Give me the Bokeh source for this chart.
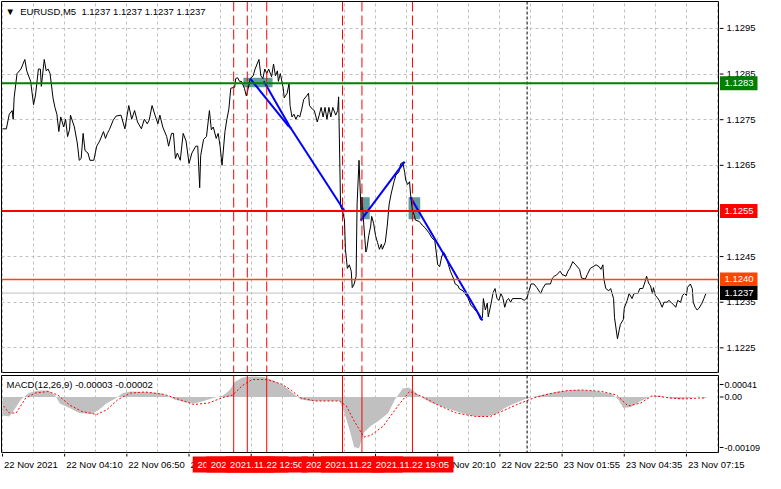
from bokeh.plotting import figure
from bokeh.layouts import column, row
from bokeh.models import Range1d, FixedTicker, Span, Label, Grid, ColumnDataSource
from bokeh.core.properties import value
from bokeh.embed import file_html
from bokeh.resources import INLINE

# ---------------- data ----------------
symbol_title = "\u25bc\u00a0\u00a0EURUSD,M5\u00a0\u00a01.1237 1.1237 1.1237 1.1237"
macd_title = "MACD(12,26,9) -0.00003 -0.00002"

# x axis: bar index (M5 bars), label every 32 bars, grid every 16 bars
time_labels = ["22 Nov 2021", "22 Nov 04:10", "22 Nov 06:50", "22 Nov 09:30",
               "22 Nov 12:10", "22 Nov 14:50", "22 Nov 17:30", "22 Nov 20:10",
               "22 Nov 22:50", "23 Nov 01:55", "23 Nov 04:35", "23 Nov 07:15"]
label_step = 32
grid_step = 16
n_bars = 369

price_ticks = [1.1225, 1.1235, 1.1245, 1.1255, 1.1265, 1.1275, 1.1285, 1.1295]

# close prices (bar, price)
price_points = [
    (0, 1.12730), (2, 1.12730), (3.5, 1.12762), (5, 1.12770), (5.5, 1.12751), (6, 1.12798),
    (7.5, 1.12851), (9.5, 1.12861), (11.5, 1.12882), (12.5, 1.12857), (14.5, 1.12834),
    (16, 1.12783), (17, 1.12804), (18.5, 1.12861), (19.5, 1.12861), (20, 1.12823),
    (21.5, 1.12882), (22.5, 1.12857), (23.5, 1.12861), (24.5, 1.12851), (26, 1.12798),
    (27, 1.12777), (28, 1.12762), (29, 1.12724), (30, 1.12756), (31.5, 1.12734),
    (32.5, 1.12751), (33.5, 1.12713), (34.5, 1.12728), (35, 1.12760), (37, 1.12734),
    (38.5, 1.12699), (39.5, 1.12661), (40.5, 1.12665), (41.5, 1.12720), (42.5, 1.12682),
    (44, 1.12677), (45, 1.12661), (47, 1.12661), (48.5, 1.12692), (50, 1.12703),
    (52, 1.12724), (53, 1.12709), (54, 1.12720), (55, 1.12728), (57, 1.12749),
    (58.5, 1.12758), (61, 1.12760), (63, 1.12730), (65, 1.12781), (66.5, 1.12751),
    (68, 1.12770), (69.5, 1.12745), (71.5, 1.12730), (73, 1.12751), (74.5, 1.12741),
    (75.5, 1.12749), (77, 1.12781), (78.5, 1.12760), (80, 1.12741), (81, 1.12760),
    (82.5, 1.12734), (84.5, 1.12713), (85.5, 1.12692), (87, 1.12720), (88, 1.12720),
    (89, 1.12665), (90, 1.12677), (91.5, 1.12661), (93, 1.12720), (94.5, 1.12703),
    (96, 1.12654), (97.5, 1.12677), (99.5, 1.12692), (100.5, 1.12692), (101.5, 1.12601),
    (102, 1.12671), (103.5, 1.12707), (105, 1.12713), (106.5, 1.12770), (107.5, 1.12728),
    (108.5, 1.12734), (110, 1.12709), (111, 1.12720), (112, 1.12692), (113, 1.12650),
    (114.5, 1.12724), (115.5, 1.12751), (116.5, 1.12773), (117.5, 1.12819), (119.5, 1.12821),
    (120, 1.12840), (121, 1.12842), (122, 1.12834), (123, 1.12834), (124.5, 1.12819),
    (125.5, 1.12802), (126.5, 1.12819), (127.5, 1.12840), (129, 1.12846), (130, 1.12861),
    (132, 1.12882), (133, 1.12846), (134, 1.12840), (135, 1.12861), (136, 1.12851),
    (137, 1.12861), (138.5, 1.12844), (139.5, 1.12872), (140.5, 1.12846), (141.5, 1.12857),
    (142, 1.12834), (143, 1.12851), (144.5, 1.12819), (145, 1.12798), (146.5, 1.12808),
    (147.5, 1.12830), (148, 1.12781), (149, 1.12756), (150, 1.12762), (151, 1.12751),
    (152, 1.12760), (153, 1.12756), (154, 1.12773), (155, 1.12794), (156.5, 1.12802),
    (157.5, 1.12808), (158, 1.12781), (159.5, 1.12773), (160.5, 1.12770), (162, 1.12745),
    (163, 1.12760), (164, 1.12777), (165, 1.12756), (166, 1.12777), (167, 1.12751),
    (168, 1.12777), (169, 1.12756), (170, 1.12777), (171.5, 1.12760), (172.5, 1.12770),
    (173, 1.12800), (174, 1.12560), (175, 1.12551), (176, 1.12530), (176.5, 1.12466),
    (177.5, 1.12424), (178.5, 1.12432), (179.5, 1.12418), (180, 1.12382), (181, 1.12390),
    (182, 1.12407), (182.5, 1.12565), (183.5, 1.12661), (184.5, 1.12551), (185, 1.12580),
    (186, 1.12517), (187, 1.12460), (187.5, 1.12466), (188.5, 1.12496), (189.5, 1.12517),
    (190, 1.12538), (191, 1.12523), (192, 1.12496), (193, 1.12481), (194, 1.12466),
    (195, 1.12477), (195.5, 1.12466), (197, 1.12481), (198, 1.12517), (199, 1.12565),
    (200, 1.12587), (201.5, 1.12614), (202.5, 1.12629), (204, 1.12635), (205, 1.12654),
    (206, 1.12656), (207, 1.12635), (207.5, 1.12618), (208.5, 1.12608), (209.5, 1.12614),
    (210, 1.12587), (211, 1.12551), (212, 1.12540), (212.5, 1.12530), (214.5, 1.12527),
    (216, 1.12519), (217.5, 1.12513), (219.5, 1.12502), (221, 1.12491), (222.5, 1.12485),
    (224, 1.12432), (225, 1.12428), (226, 1.12449), (227, 1.12460), (228, 1.12453),
    (229.5, 1.12432), (230.5, 1.12418), (232, 1.12403), (233, 1.12390), (234.5, 1.12386),
    (235, 1.12380), (237, 1.12375), (238, 1.12369), (239.5, 1.12360), (241, 1.12344),
    (242.5, 1.12337), (244.5, 1.12327), (246, 1.12312), (247, 1.12316), (247.5, 1.12358),
    (248.5, 1.12333), (249.5, 1.12348), (250, 1.12318), (251.5, 1.12348), (252.5, 1.12371),
    (253.5, 1.12380), (254.5, 1.12358), (255.5, 1.12354), (256.5, 1.12369), (257.5, 1.12360),
    (258.5, 1.12339), (259.5, 1.12354), (260.5, 1.12358), (261.5, 1.12350), (262.5, 1.12358),
    (267, 1.12358), (268.5, 1.12354), (270, 1.12360), (271, 1.12375), (272, 1.12390),
    (273.5, 1.12390), (275, 1.12382), (277, 1.12369), (278, 1.12380), (279.5, 1.12390),
    (282, 1.12390), (283, 1.12403), (284, 1.12407), (285, 1.12409), (287, 1.12418),
    (288, 1.12411), (290, 1.12407), (291, 1.12418), (292, 1.12424), (293.5, 1.12439),
    (295, 1.12432), (297, 1.12422), (298, 1.12403), (300, 1.12401), (301, 1.12411),
    (302.5, 1.12424), (304, 1.12428), (305.5, 1.12432), (307, 1.12428), (308, 1.12422),
    (309, 1.12432), (309.5, 1.12401), (310.5, 1.12380), (312, 1.12375), (313, 1.12380),
    (314.5, 1.12358), (315, 1.12316), (316.5, 1.12270), (317.5, 1.12291), (318, 1.12301),
    (319.5, 1.12312), (320, 1.12337), (321.5, 1.12354), (322.5, 1.12369), (324, 1.12358),
    (325, 1.12369), (327, 1.12369), (328, 1.12380), (329.5, 1.12380), (330.5, 1.12392),
    (331.5, 1.12407), (332.5, 1.12392), (333.5, 1.12386), (334.5, 1.12369), (335, 1.12382),
    (336, 1.12365), (337, 1.12360), (338, 1.12354), (339.5, 1.12339), (340.5, 1.12350),
    (342, 1.12350), (343, 1.12354), (344.5, 1.12348), (345.5, 1.12344), (346.5, 1.12339),
    (347.5, 1.12354), (349, 1.12350), (350, 1.12365), (351, 1.12369), (352, 1.12365),
    (352.5, 1.12382), (354, 1.12390), (355, 1.12380), (355.5, 1.12350), (356.5, 1.12339),
    (357.5, 1.12333), (358.5, 1.12337), (360, 1.12348), (361, 1.12358), (362, 1.12369),
]

# MACD main (histogram) and signal (bar, value)
macd_hist = [
    (0, -0.00037), (3.5, -0.00039), (6, -0.00026), (9.5, -0.00005), (13.5, 0.00008),
    (18.5, 0.00013), (23.5, 0.00013), (27, 0.00004), (29.5, -0.00013), (34.5, -0.00022),
    (39.5, -0.00032), (46, -0.00034), (49.5, -0.00026), (53.5, -0.00013), (58.5, -0.00002),
    (62, 0.00008), (66, 0.00011), (73.5, 0.00010), (81, 0.00008), (84.5, 0.00003),
    (88.5, -0.00005), (93.5, -0.00010), (98.5, -0.00013), (103.5, -0.00008), (108.5, -0.00002),
    (113.5, 0.00003), (117, 0.00014), (119.5, 0.00030), (123.5, 0.00039), (128.5, 0.00041),
    (134.5, 0.00040), (139.5, 0.00033), (144.5, 0.00023), (148.5, 0.00011), (153.5, -0.00005),
    (158.5, -0.00008), (166, -0.00008), (173.5, -0.00008), (176, -0.00032), (178.5, -0.00064),
    (181, -0.00100), (183.5, -0.00103), (186, -0.00071), (189.5, -0.00058), (193.5, -0.00048),
    (198.5, -0.00032), (202, -0.00005), (206, 0.00017), (209, 0.00019), (212, 0.00011),
    (216, -0.00002), (221, -0.00012), (228.5, -0.00022), (236, -0.00032), (243.5, -0.00039),
    (248.5, -0.00039), (253.5, -0.00035), (258.5, -0.00022), (263.5, -0.00013), (268.5, -0.00005),
    (273.5, 0.00001), (278.5, 0.00005), (286, 0.00011), (293.5, 0.00014), (298.5, 0.00014),
    (306, 0.00011), (313.5, 0.00006), (317, -0.00005), (319.5, -0.00022), (323.5, -0.00020),
    (328.5, -0.00008), (333.5, 0.00001), (338.5, 0.00003), (343.5, -0.00002), (348.5, -0.00005),
    (353.5, -0.00002), (358.5, 0.00001), (362, -0.00003),
]
macd_signal = [
    (0.5, -0.00018), (3.5, -0.00032), (7, -0.00032), (12, -0.00002), (17, 0.00008),
    (23.5, 0.00011), (28.5, 0.00004), (34.5, -0.00016), (41, -0.00029), (48.5, -0.00035),
    (53.5, -0.00026), (59.5, -0.00005), (66, 0.00008), (73.5, 0.00010), (83.5, 0.00005),
    (91, -0.00005), (98.5, -0.00015), (106, -0.00012), (113.5, -0.00001), (118.5, 0.00004),
    (123.5, 0.00023), (128.5, 0.00035), (136, 0.00035), (143.5, 0.00026), (148.5, 0.00014),
    (153.5, -0.00002), (161, -0.00008), (173.5, -0.00008), (177, -0.00018), (181, -0.00048),
    (186, -0.00080), (189.5, -0.00077), (196, -0.00058), (203.5, -0.00018), (209.5, 0.00011),
    (216, 0.00001), (223.5, -0.00015), (233.5, -0.00032), (243.5, -0.00039), (251, -0.00039),
    (258.5, -0.00026), (266, -0.00013), (273.5, -0.00002), (281, 0.00006), (291, 0.00013),
    (298.5, 0.00014), (308.5, 0.00011), (316, 0.00004), (322, -0.00018), (328.5, -0.00012),
    (334.5, 0.00003), (343.5, -0.00002), (351, -0.00004), (358.5, -0.00002), (362, -0.00002),
]
macd_axis_labels = ["0.00041", "0.00", "-0.00109"]

# horizontal levels and price tags
level_prices = [1.1283, 1.1255, 1.1240]
level_colors = ["#008000", "#ff0000", "#ff4500"]
level_widths = [2, 2, 1.5]
bid_price = 1.1237
tag_prices = [1.1283, 1.1255, 1.1240, 1.1237]
tag_texts = ["1.1283", "1.1255", "1.1240", "1.1237"]
tag_colors = ["#008000", "#ff0000", "#ff4500", "#000000"]

# vertical event lines
vline_bars = [119, 126, 136, 175, 185, 211]
vline_labels = ["2021.11.22 11:25", "2021.11.22 12:00", "2021.11.22 12:50",
                "2021.11.22 16:05", "2021.11.22 16:55", "2021.11.22 19:05"]
day_sep_bar = 270

# rectangles (bars / prices)
rect_left = [124, 184, 209]
rect_right = [139, 189, 215]
rect_top = [1.12842, 1.12580, 1.12580]
rect_bottom = [1.12821, 1.12532, 1.12532]

# blue trend lines
trend_x0 = [127.5, 134.5, 148, 184.3, 210]
trend_y0 = [1.12840, 1.12834, 1.12734, 1.12529, 1.12580]
trend_x1 = [147.5, 148.5, 176, 207, 247]
trend_y1 = [1.12734, 1.12730, 1.12550, 1.12658, 1.12310]

# ---------------- styling / layout ----------------
FONT = "Liberation Sans"
FS = "9.5px"
FS_SMALL = "9px"
W = 765
AX_W = 46
FRAME_W = W - AX_W - 2
MAIN_H = 373
MAIN_FRAME_H = 371
MACD_H = 80
MACD_FRAME_H = 77
TIME_H = 20
GRID_COLOR = "#c0c0c0"

px_per_bar = FRAME_W / n_bars
x_range = Range1d(-0.5, n_bars - 0.5)
main_y = Range1d(1.12196, 1.13009)
macd_y = Range1d(-0.00111, 0.00043)
main_upp = (main_y.end - main_y.start) / MAIN_FRAME_H
macd_upp = (macd_y.end - macd_y.start) / MACD_FRAME_H

label_ticks = [i * label_step for i in range(len(time_labels))]
grid_ticks = list(range(0, n_bars, grid_step))
macd_axis_ticks = [macd_y.end - 9 * macd_upp, 0.0, macd_y.start + 5 * macd_upp]


def panel(height, y_rng, top):
    p = figure(width=FRAME_W + 2, height=height, x_range=x_range, y_range=y_rng,
               output_backend="svg", toolbar_location=None,
               x_axis_type=None, y_axis_type=None,
               min_border_left=1, min_border_right=1,
               min_border_top=top, min_border_bottom=1,
               background_fill_color="white", border_fill_color="white",
               outline_line_color="black", outline_line_width=1)
    p.add_layout(Grid(dimension=0, ticker=FixedTicker(ticks=grid_ticks),
                      grid_line_color=GRID_COLOR, grid_line_dash="3 3"))
    return p


def strip(width, height, x_rng, y_rng, top, bottom, left=0):
    s = figure(width=width, height=height, x_range=x_rng, y_range=y_rng,
               output_backend="svg", toolbar_location=None,
               x_axis_type=None, y_axis_type=None,
               min_border_left=left, min_border_right=0,
               min_border_top=top, min_border_bottom=bottom,
               background_fill_color="white", border_fill_color="white",
               outline_line_color=None)
    return s


def txt_kw(color="black", align="left", size=FS):
    return dict(text_font=value(FONT), text_font_size=value(size), text_color=color,
                text_baseline="middle", text_align=align)


# ---- main price panel ----
main = panel(MAIN_H, main_y, 1)
main.add_layout(Grid(dimension=1, ticker=FixedTicker(ticks=price_ticks),
                     grid_line_color=GRID_COLOR, grid_line_dash="3 3"))

main.quad(left=rect_left, right=rect_right, top=rect_top, bottom=rect_bottom,
          fill_color="#5f9ea0", line_color=None)
for b in vline_bars:
    main.add_layout(Span(location=b, dimension="height", line_color="#ff0000",
                         line_dash="10 4", line_width=1))
main.add_layout(Span(location=day_sep_bar, dimension="height", line_color="black",
                     line_dash="3 2", line_width=1))
main.add_layout(Span(location=bid_price, dimension="width", line_color="#c0c0c0", line_width=1))

price_src = ColumnDataSource(dict(x=[p[0] for p in price_points], y=[p[1] for p in price_points]))
main.line("x", "y", source=price_src, line_color="black", line_width=1)

for lvl, col, lw in zip(level_prices, level_colors, level_widths):
    main.add_layout(Span(location=lvl, dimension="width", line_color=col, line_width=lw))

main.segment(x0=trend_x0, y0=trend_y0, x1=trend_x1, y1=trend_y1,
             line_color="#0000ff", line_width=2)

main.add_layout(Label(x=4, y=MAIN_FRAME_H - 10, x_units="screen", y_units="screen",
                      text=symbol_title, text_font=FONT, text_font_size=FS,
                      text_color="black", text_baseline="middle", text_align="left"))

# ---- main price axis strip ----
ax_x = Range1d(0, AX_W)
main_ax = strip(AX_W, MAIN_H, ax_x, main_y, 1, 1)
main_ax.segment(x0=0, x1=4, y0=price_ticks, y1=price_ticks, line_color="black", line_width=1)
main_ax.text(x=7, y=price_ticks, text=[f"{p:.4f}" for p in price_ticks], **txt_kw())
tag_half = 7 * main_upp
main_ax.quad(left=0.5, right=38, top=[p + tag_half for p in tag_prices],
             bottom=[p - tag_half for p in tag_prices], fill_color=tag_colors, line_color=None)
main_ax.text(x=19.5, y=tag_prices, text=tag_texts, **txt_kw("white", "center"))

# ---- MACD panel ----
macd = panel(MACD_H, macd_y, 2)
macd.varea(x=[h[0] for h in macd_hist], y1=0, y2=[h[1] for h in macd_hist],
           fill_color="#c0c0c0")
for b in vline_bars:
    macd.add_layout(Span(location=b, dimension="height", line_color="#ff0000", line_width=1))
macd.add_layout(Span(location=day_sep_bar, dimension="height", line_color="black",
                     line_dash="3 2", line_width=1))
macd.line([s[0] for s in macd_signal], [s[1] for s in macd_signal],
          line_color="#ff0000", line_dash="2 2", line_width=1)
macd.add_layout(Label(x=5, y=MACD_FRAME_H - 9, x_units="screen", y_units="screen",
                      text=macd_title, text_font=FONT, text_font_size=FS,
                      text_color="black", text_baseline="middle", text_align="left"))

# ---- MACD axis strip ----
macd_ax = strip(AX_W, MACD_H, ax_x, macd_y, 2, 1)
macd_ax.segment(x0=0, x1=4, y0=macd_axis_ticks, y1=macd_axis_ticks, line_color="black")
macd_ax.text(x=5, y=macd_axis_ticks, text=macd_axis_labels, **txt_kw(size=FS_SMALL))

# ---- time axis strip ----
time_x = Range1d(-0.5, -0.5 + (W - 1) / px_per_bar)
time_ax = strip(W, TIME_H, time_x, Range1d(0, TIME_H), 0, 0, left=1)
time_ax.segment(x0=label_ticks, x1=label_ticks, y0=TIME_H, y1=TIME_H - 3, line_color="black")
time_ax.text(x=[t + 1.5 / px_per_bar for t in label_ticks], y=TIME_H - 11,
             text=time_labels, **txt_kw())
box_w = 82 / px_per_bar
for b, t in zip(vline_bars, vline_labels):
    time_ax.quad(left=b - box_w / 2, right=b + box_w / 2, top=TIME_H - 3, bottom=1,
                 fill_color="#ff0000", line_color=None)
    time_ax.text(x=b, y=TIME_H - 11, text=[t], **txt_kw("white", "center"))

layout = column(row(main, main_ax, spacing=0), row(macd, macd_ax, spacing=0), time_ax, spacing=0)
open("out.html", "w").write(file_html(layout, INLINE))
